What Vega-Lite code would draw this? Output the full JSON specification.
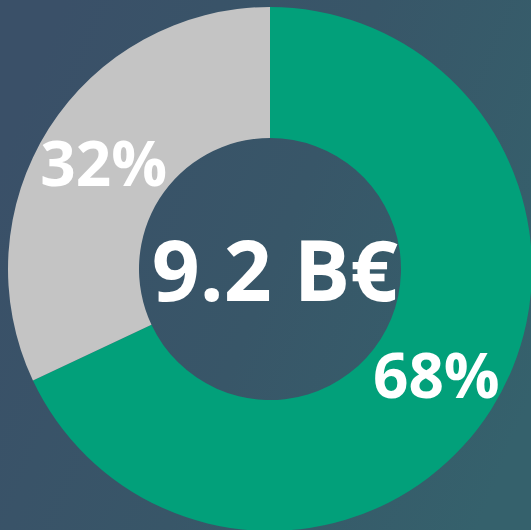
{
  "$schema": "https://vega.github.io/schema/vega-lite/v6.json",
  "width": 540,
  "height": 538,
  "autosize": {"type": "none"},
  "padding": 0,
  "background": "#3a5068",
  "config": {"view": {"stroke": null}},
  "datasets": {
    "shares": [
      {"category": "Green", "share": 68, "label": "68%"},
      {"category": "Gray", "share": 32, "label": "32%"}
    ],
    "total": [{"text": "9.2 B€"}]
  },
  "layer": [
    {
      "data": {"name": "total"},
      "mark": {
        "type": "rect",
        "color": {
          "gradient": "linear",
          "x1": 0, "y1": 0.3, "x2": 1, "y2": 0.7,
          "stops": [
            {"offset": 0, "color": "#3a5068"},
            {"offset": 0.5, "color": "#385668"},
            {"offset": 1, "color": "#35616c"}
          ]
        }
      },
      "encoding": {}
    },
    {
      "data": {"name": "shares"},
      "mark": {"type": "arc", "outerRadius": 262, "innerRadius": 131},
      "encoding": {
        "theta": {"field": "share", "type": "quantitative", "stack": true},
        "order": {"field": "share", "sort": "descending"},
        "color": {
          "field": "category",
          "type": "nominal",
          "scale": {"domain": ["Green", "Gray"], "range": ["#02a07a", "#c4c4c4"]},
          "legend": null
        }
      }
    },
    {
      "data": {"name": "shares"},
      "mark": {
        "type": "text",
        "radius": 197,
        "font": "Open Sans",
        "fontWeight": "bold",
        "fontSize": 62,
        "color": "white",
        "align": "center",
        "baseline": "middle",
        "dy": 4
      },
      "encoding": {
        "theta": {"field": "share", "type": "quantitative", "stack": true},
        "order": {"field": "share", "sort": "descending"},
        "text": {"field": "label", "type": "nominal"}
      }
    },
    {
      "data": {"name": "total"},
      "mark": {
        "type": "text",
        "font": "Open Sans",
        "fontWeight": "bold",
        "fontSize": 84,
        "color": "white",
        "align": "center",
        "baseline": "alphabetic",
        "dx": 5,
        "dy": 32
      },
      "encoding": {
        "text": {"field": "text", "type": "nominal"}
      }
    }
  ]
}
